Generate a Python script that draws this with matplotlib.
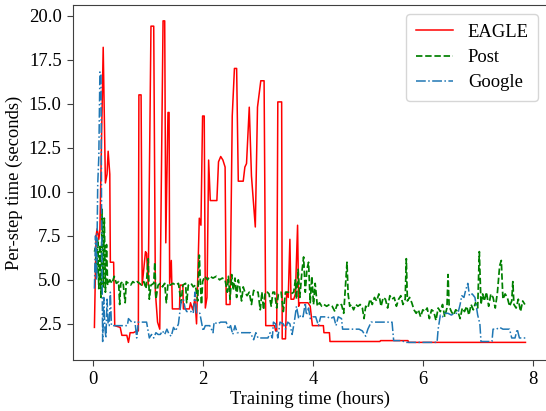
import matplotlib
matplotlib.use("Agg")
import matplotlib.pyplot as plt

plt.rcParams['font.family'] = ['Liberation Serif', 'DejaVu Serif']
plt.rcParams['font.size'] = 13.4

# ---------------- data (hours, seconds) ----------------
eagle_t = [0.02, 0.05, 0.07, 0.10, 0.12, 0.18, 0.22, 0.25, 0.27, 0.30, 0.31, 0.37, 0.39,
           0.49, 0.52, 0.61, 0.64, 0.67, 0.73, 0.79, 0.82, 0.83, 0.87, 0.89, 0.95, 0.97,
           1.00, 1.05, 1.10, 1.13, 1.17, 1.21, 1.27, 1.30, 1.32, 1.36, 1.38, 1.39, 1.42,
           1.44, 1.57, 1.58, 1.63, 1.64, 1.75, 1.77, 1.81, 1.85, 1.88, 1.93, 1.96, 1.99,
           2.02, 2.04, 2.07, 2.10, 2.13, 2.17, 2.25, 2.28, 2.32, 2.36, 2.40, 2.42, 2.49,
           2.53, 2.57, 2.61, 2.64, 2.73, 2.76, 2.79, 2.84, 2.88, 2.95, 2.99, 3.05, 3.11,
           3.14, 3.30, 3.32, 3.34, 3.36, 3.43, 3.44, 3.50, 3.52, 3.55, 3.58, 3.60, 3.65,
           3.68, 3.72, 3.74, 3.76, 3.91, 3.95, 3.99, 4.19, 4.20, 4.30, 4.31, 5.22, 5.23,
           5.73, 5.74, 7.87]
eagle_v = [2.3, 7.5, 7.9, 7.3, 7.8, 18.2, 10.5, 11.0, 12.3, 11.0, 6.0, 6.0, 2.4,
           2.3, 1.85, 1.85, 1.45, 2.0, 2.0, 2.1, 2.1, 15.5, 15.5, 4.7, 6.6, 6.5,
           4.7, 19.4, 19.4, 4.3, 2.6, 2.2, 19.7, 19.7, 7.1, 14.5, 14.5, 4.8, 6.1,
           3.35, 3.35, 4.7, 4.7, 3.35, 3.35, 3.7, 3.3, 3.9, 2.5, 8.5, 8.1, 14.3,
           14.3, 3.4, 4.0, 11.8, 9.5, 9.5, 9.5, 11.7, 12.0, 11.8, 11.4, 3.6, 3.6,
           14.3, 17.0, 17.0, 10.6, 10.6, 11.4, 11.6, 14.8, 10.9, 8.0, 14.8, 16.3, 16.3,
           2.4, 2.4, 2.1, 2.1, 15.1, 15.1, 1.65, 1.65, 4.3, 4.0, 7.3, 3.9, 3.9,
           4.2, 8.1, 3.5, 3.7, 3.7, 3.5, 2.4, 2.4, 2.0, 2.0, 1.5, 1.5, 1.55,
           1.55, 1.45, 1.45]

post_t = [0.02, 0.04, 0.06, 0.08, 0.10, 0.12, 0.14, 0.16, 0.18, 0.20, 0.22, 0.24, 0.26,
          0.30, 0.34, 0.38, 0.42, 0.46, 0.48, 0.50, 0.54, 0.58, 0.60, 0.64, 0.68, 0.72,
          0.76, 0.80, 0.84, 0.88, 0.92, 0.96, 1.00, 1.02, 1.05, 1.10, 1.12, 1.14, 1.18,
          1.22, 1.26, 1.30, 1.33, 1.36, 1.40, 1.45, 1.50, 1.55, 1.60, 1.63, 1.68, 1.70,
          1.73, 1.78, 1.82, 1.86, 1.90, 1.93, 1.95, 1.97, 1.99, 2.03, 2.08, 2.12, 2.18,
          2.24, 2.30, 2.35, 2.40, 2.44, 2.46, 2.49, 2.52, 2.55, 2.58, 2.61, 2.64, 2.67,
          2.70, 2.73, 2.76, 2.80, 2.84, 2.88, 2.92, 2.96, 3.00, 3.04, 3.07, 3.10, 3.13,
          3.17, 3.20, 3.24, 3.27, 3.30, 3.34, 3.37, 3.42, 3.46, 3.50, 3.55, 3.60, 3.65,
          3.68, 3.70, 3.73, 3.76, 3.80, 3.83, 3.86, 3.89, 3.92, 3.95, 3.98, 4.01, 4.04,
          4.08, 4.12, 4.16, 4.20, 4.25, 4.30, 4.35, 4.40, 4.44, 4.48, 4.52, 4.56, 4.59,
          4.62, 4.64, 4.67, 4.70, 4.74, 4.78, 4.82, 4.86, 4.90, 4.93, 4.96, 5.00, 5.04,
          5.08, 5.12, 5.16, 5.20, 5.24, 5.28, 5.32, 5.36, 5.40, 5.44, 5.48, 5.52, 5.56,
          5.60, 5.64, 5.68, 5.70, 5.72, 5.76, 5.80, 5.84, 5.88, 5.92, 5.96, 6.00, 6.04,
          6.08, 6.12, 6.16, 6.20, 6.24, 6.28, 6.32, 6.36, 6.40, 6.44, 6.46, 6.48, 6.52,
          6.56, 6.60, 6.64, 6.68, 6.72, 6.76, 6.80, 6.84, 6.88, 6.92, 6.96, 7.00, 7.03,
          7.06, 7.09, 7.12, 7.16, 7.20, 7.24, 7.28, 7.32, 7.36, 7.40, 7.43, 7.46, 7.50,
          7.54, 7.58, 7.62, 7.64, 7.66, 7.70, 7.74, 7.78, 7.82, 7.86]
post_v = [6.6, 6.8, 5.4, 7.3, 4.5, 7.0, 4.0, 9.0, 4.6, 8.5, 4.3, 7.0, 4.7,
          5.0, 4.8, 5.2, 4.8, 4.9, 3.6, 4.8, 4.9, 3.7, 4.9, 4.8, 4.7, 4.9,
          4.8, 4.9, 4.8, 4.7, 4.9, 4.5, 6.2, 3.9, 4.7, 4.8, 6.0, 3.9, 4.7,
          4.8, 4.6, 4.8, 3.7, 4.8, 4.7, 4.8, 4.7, 4.8, 3.7, 4.7, 4.8, 3.7,
          4.7, 4.8, 4.6, 4.7, 3.8, 6.4, 4.8, 3.6, 4.9, 5.2, 5.0, 5.2, 5.1,
          5.2, 5.0, 5.1, 5.0, 4.3, 5.2, 3.9, 5.3, 4.4, 5.1, 4.0, 5.0, 4.5,
          3.8, 4.6, 4.3, 4.1, 4.3, 3.6, 4.4, 4.3, 4.3, 3.3, 4.3, 3.3, 4.3,
          4.3, 4.2, 3.5, 4.3, 4.3, 3.4, 4.2, 4.3, 3.2, 4.3, 4.3, 4.2, 4.3,
          5.0, 3.9, 5.6, 4.0, 5.5, 6.3, 4.3, 5.6, 6.0, 3.7, 5.2, 3.6, 4.8,
          3.5, 3.7, 3.5, 3.6, 3.5, 3.6, 3.5, 3.2, 3.6, 3.5, 3.6, 3.1, 4.6,
          6.0, 4.2, 3.5, 3.6, 3.3, 3.6, 3.5, 3.6, 3.4, 2.8, 3.5, 3.4, 3.9,
          3.6, 4.0, 3.8, 4.2, 3.5, 4.0, 3.9, 3.4, 4.1, 3.9, 4.0, 3.5, 3.9,
          4.1, 3.6, 3.9, 6.2, 3.8, 4.0, 3.7, 3.3, 3.1, 3.3, 2.9, 3.3, 3.2,
          3.4, 2.8, 3.3, 3.2, 2.7, 3.4, 3.2, 3.6, 2.9, 3.4, 5.3, 3.5, 3.2,
          3.0, 3.3, 3.2, 2.8, 3.4, 3.2, 3.5, 3.0, 3.6, 3.3, 3.7, 3.4, 6.6,
          3.6, 4.2, 3.8, 4.3, 3.5, 4.2, 4.0, 3.4, 4.3, 5.8, 6.1, 3.9, 4.2,
          4.0, 3.5, 3.8, 4.9, 3.6, 3.4, 3.9, 3.2, 3.8, 3.6]

google_t = [0.02, 0.04, 0.06, 0.08, 0.10, 0.12, 0.14, 0.15, 0.17, 0.19, 0.21, 0.23,
            0.25, 0.27, 0.29, 0.31, 0.33, 0.37, 0.45, 0.55, 0.62, 0.64, 0.70, 0.76,
            0.79, 0.82, 0.90, 0.97, 1.02, 1.06, 1.10, 1.14, 1.18, 1.22, 1.26, 1.30,
            1.34, 1.38, 1.42, 1.46, 1.50, 1.55, 1.58, 1.60, 1.64, 1.67, 1.70, 1.74,
            1.78, 1.82, 1.85, 1.88, 1.94, 2.00, 2.04, 2.08, 2.12, 2.18, 2.20, 2.26,
            2.32, 2.38, 2.42, 2.46, 2.50, 2.54, 2.58, 2.62, 2.68, 2.74, 2.80, 2.86,
            2.92, 2.96, 3.00, 3.06, 3.12, 3.18, 3.22, 3.26, 3.28, 3.32, 3.36, 3.40,
            3.46, 3.50, 3.54, 3.58, 3.62, 3.66, 3.70, 3.74, 3.78, 3.82, 3.86, 3.88,
            3.92, 3.95, 4.00, 4.05, 4.10, 4.14, 4.20, 4.26, 4.32, 4.38, 4.42, 4.46,
            4.52, 4.54, 4.60, 4.66, 4.72, 4.78, 4.84, 4.90, 4.96, 5.00, 5.06, 5.12,
            5.20, 5.28, 5.36, 5.44, 5.47, 5.55, 5.62, 5.68, 5.80, 5.95, 6.10, 6.26,
            6.28, 6.32, 6.36, 6.40, 6.46, 6.52, 6.58, 6.64, 6.68, 6.71, 6.75, 6.78,
            6.82, 6.85, 6.90, 6.95, 7.00, 7.04, 7.06, 7.12, 7.20, 7.26, 7.28, 7.34,
            7.40, 7.46, 7.52, 7.58, 7.62, 7.68, 7.72, 7.76, 7.82, 7.88]
google_v = [4.5, 7.5, 5.0, 10.4, 12.0, 16.8, 16.7, 9.0, 1.5, 4.0, 2.3, 1.7,
            3.9, 2.5, 2.4, 4.3, 2.4, 2.4, 2.4, 2.4, 2.4, 2.8, 2.6, 2.6,
            1.7, 2.6, 2.6, 2.6, 1.7, 1.9, 1.7, 2.0, 1.9, 1.9, 2.1, 1.9,
            2.2, 1.9, 1.8, 2.3, 2.1, 2.5, 3.3, 3.8, 3.9, 3.4, 3.2, 3.2,
            3.2, 3.1, 4.3, 3.1, 3.1, 2.1, 2.4, 2.4, 2.4, 2.0, 2.6, 2.5,
            2.6, 2.6, 2.6, 2.2, 2.4, 1.9, 2.4, 2.0, 2.0, 2.0, 2.0, 2.0,
            1.6, 2.0, 1.7, 1.7, 1.7, 1.7, 2.0, 1.7, 2.6, 2.5, 1.7, 2.6,
            2.5, 2.2, 2.6, 2.5, 1.9, 2.6, 3.5, 2.8, 3.0, 2.9, 3.7, 3.0,
            3.4, 2.8, 2.9, 2.9, 2.4, 2.9, 2.9, 2.9, 2.8, 2.9, 2.4, 2.9,
            2.8, 2.2, 2.2, 2.2, 2.2, 2.2, 2.2, 2.1, 1.8, 2.2, 2.6, 2.6,
            2.6, 2.6, 2.6, 2.6, 1.55, 1.55, 1.55, 1.45, 1.45, 1.45, 1.45, 1.45,
            2.2, 3.0, 2.9, 3.1, 3.1, 3.0, 3.1, 3.1, 3.6, 4.1, 4.0, 4.4,
            4.8, 4.1, 4.2, 4.0, 3.0, 2.5, 1.5, 1.5, 1.5, 1.5, 2.2, 2.2,
            2.3, 2.2, 2.2, 2.2, 1.7, 1.7, 2.2, 1.7, 1.7, 1.7]

# ---------------- figure ----------------
fig = plt.figure(figsize=(5.46, 4.11), dpi=100)
ax = fig.add_axes([0.1332, 0.1241, 0.8694, 0.8637])

ax.plot(eagle_t, eagle_v, color='red', lw=1.1, ls='-', label='EAGLE')
ax.plot(post_t, post_v, color='green', lw=1.25, ls='--', label='Post')
ax.plot(google_t, google_v, color='#1f77b4', lw=1.1, ls='-.', label='Google')

ax.set_xlim(-0.375, 8.27)
ax.set_ylim(0.45, 20.6)
ax.set_xticks([0, 2, 4, 6, 8])
ax.set_yticks([2.5, 5.0, 7.5, 10.0, 12.5, 15.0, 17.5, 20.0])
ax.set_yticklabels(['2.5', '5.0', '7.5', '10.0', '12.5', '15.0', '17.5', '20.0'])
ax.set_xlabel('Training time (hours)', labelpad=2)
ax.set_ylabel('Per-step time (seconds)')
for s in ax.spines.values():
    s.set_color('0.25')
ax.tick_params(colors='0.25', labelcolor='black', length=4, pad=4)

ax.legend(loc='upper right', fontsize=13.4, borderpad=0.5, labelspacing=0.45)

fig.savefig('out.png', dpi=100)
